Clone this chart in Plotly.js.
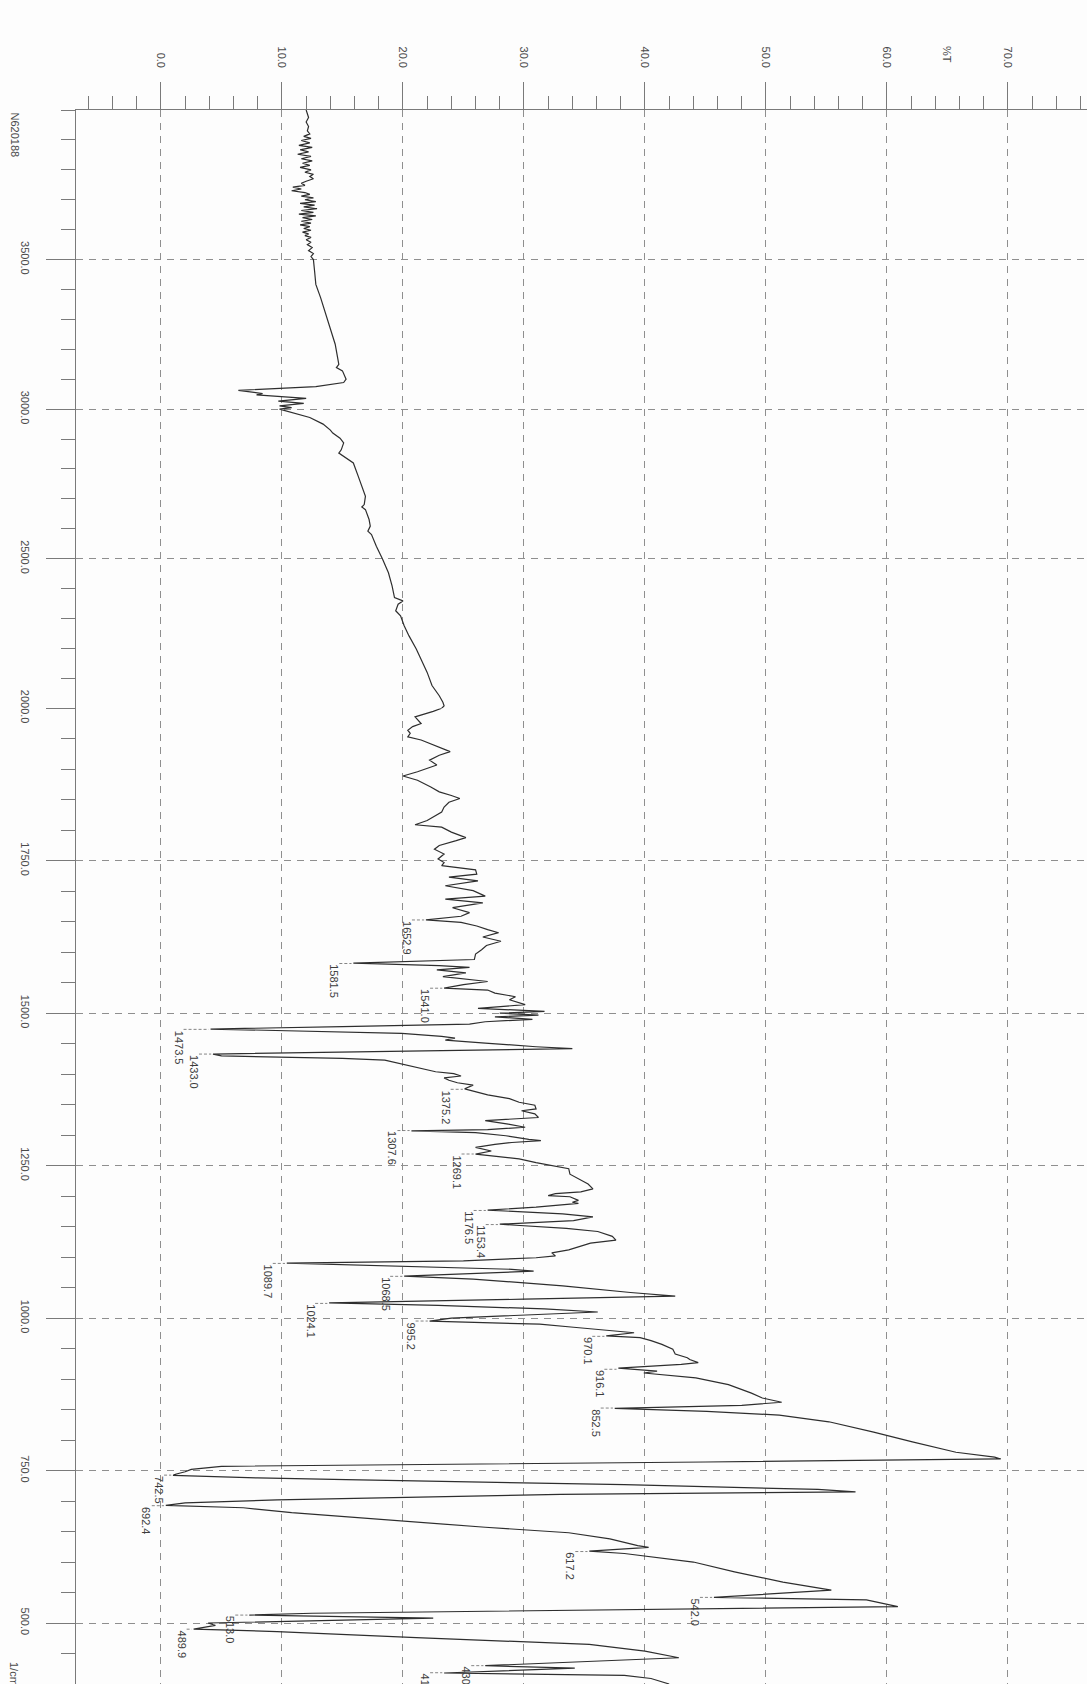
<!DOCTYPE html>
<html>
<head>
<meta charset="utf-8">
<script src="https://cdn.plot.ly/plotly-3.0.1.min.js"></script>
<style>
  html, body { margin: 0; padding: 0; background: #fdfdfd; }
  #chart { width: 1087px; height: 1684px; }
</style>
</head>
<body>
<div id="chart"></div>
<script>
// ---------------- DATA ----------------
const wavenumber = [
  4000,3990,3975,3960,3945,3930,3920,3912,3905,3898,3890,3882,3875,3867,3860,3852,3845,3837,3830,3822,
  3815,3808,3800,3792,3785,3778,3770,3762,3755,3748,3742,3736,3730,3724,3718,3712,3706,3700,3694,3688,
  3682,3676,3670,3664,3658,3652,3646,3640,3634,3628,3622,3616,3610,3604,3598,3592,3586,3580,3574,3566,
  3558,3550,3540,3530,3520,3510,3500,3460,3417,3372,3305,3260,3217,3150,3139,3128,3100,3089,3075,3063,
  3057,3052,3048,3044,3036,3027,3019,3011,3005,3000,2989,2972,2950,2930,2920,2903,2887,2864,2853,2842,
  2820,2776,2742,2709,2681,2673,2664,2631,2609,2592,2581,2542,2500,2453,2409,2370,2359,2348,2326,2309,
  2276,2242,2198,2164,2120,2076,2042,2020,2008,2000,1995,1986,1981,1975,1970,1964,1959,1953,1948,1942,
  1937,1929,1923,1915,1907,1901,1896,1889,1882,1871,1863,1857,1852,1846,1838,1830,1821,1816,1809,1805,
  1797,1788,1783,1775,1769,1761,1753,1747,1742,1735,1728,1723,1717,1709,1701,1692,1687,1681,1673,1665,
  1659,1653,1649,1643,1637,1632,1625,1618,1611,1604,1597,1588,1582,1578,1575,1571,1566,1560,1552,1547,
  1541,1538,1533,1527,1522,1514,1508,1503,1500,1497,1494,1490,1486,1482,1478,1474,1467,1462,1459,1456,
  1451,1445,1442,1438,1433,1430,1426,1423,1415,1404,1401,1397,1394,1390,1386,1382,1376,1371,1366,1360,
  1354,1349,1343,1340,1335,1329,1324,1318,1313,1309,1307,1304,1299,1293,1291,1288,1285,1280,1274,1269,
  1264,1261,1255,1245,1236,1220,1212,1207,1204,1201,1199,1193,1190,1188,1182,1177,1171,1166,1160,1154,
  1147,1142,1134,1128,1123,1118,1112,1107,1102,1099,1094,1090,1085,1080,1077,1073,1069,1064,1053,1042,
  1036,1031,1025,1021,1015,1010,1005,1000,995,992,990,985,979,976,971,968,963,957,949,941,
  935,932,927,924,918,913,910,908,902,891,877,869,862,857,852,847,841,830,813,797,
  780,772,769,764,757,752,748,744,742,738,735,727,719,715,711,702,697,693,689,681,
  670,657,648,638,627,624,618,614,600,584,567,554,542,538,527,522,516,513,508,500,
  496,490,486,476,465,454,443,430,426,418,414,409,400
];
const transmittance = [
  12.0,12.1,12.2,12.0,12.2,12.1,12.3,11.8,12.4,11.6,12.3,11.4,12.5,11.5,12.2,11.3,12.4,11.6,12.5,11.7,
  12.3,11.5,12.4,11.9,12.6,12.3,12.6,12.0,11.6,11.9,10.9,11.6,10.8,11.9,12.3,11.6,12.6,11.9,12.8,11.5,
  12.7,11.8,12.9,11.6,12.6,11.4,12.8,11.7,12.5,11.6,12.4,11.5,12.3,11.8,12.4,11.7,12.2,11.9,12.4,12.0,
  12.4,12.1,12.5,12.2,12.6,12.4,12.6,12.7,12.8,13.2,13.7,14.1,14.4,14.7,14.5,15.0,15.3,15.1,12.8,6.4,
  7.6,8.4,7.9,9.2,12.0,9.7,11.8,9.8,10.8,9.8,10.7,12.3,13.4,14.0,14.2,14.8,15.1,14.9,14.7,15.1,
  15.9,16.3,16.6,16.9,16.8,16.6,16.9,17.2,17.3,17.1,17.4,17.8,18.3,18.8,19.1,19.3,20.0,19.6,19.4,19.8,
  20.1,20.5,21.1,21.5,22.0,22.4,23.0,23.3,23.4,23.2,22.5,21.0,21.2,21.5,20.8,20.4,20.6,20.4,21.5,22.3,
  23.0,23.9,23.0,22.2,22.8,22.0,21.2,20.0,21.2,22.3,23.0,24.0,24.7,23.8,23.4,23.2,22.4,22.0,21.0,23.2,
  24.0,25.2,24.4,23.0,22.6,23.4,22.9,23.4,23.2,26.0,26.1,23.8,26.2,23.5,25.8,26.8,23.5,26.6,24.1,25.5,
  24.8,21.9,24.8,26.1,27.0,27.9,26.6,28.1,26.9,26.5,26.0,25.9,15.9,23.0,25.5,22.8,25.2,23.3,27.0,25.0,
  23.4,27.0,27.6,29.3,28.8,30.1,26.2,31.7,28.0,31.2,27.6,30.7,26.8,25.5,15.0,4.1,19.9,23.2,24.3,23.5,
  26.8,31.0,34.0,20.0,4.3,5.0,15.0,18.5,20.2,22.7,24.2,24.8,23.4,23.8,24.5,25.8,25.1,26.0,27.0,28.8,
  29.6,30.9,31.0,29.8,30.9,31.2,26.8,28.7,30.1,27.0,20.7,26.0,28.5,30.4,31.4,29.0,27.6,26.0,27.3,26.0,
  28.0,29.6,31.0,33.7,33.8,35.3,35.7,34.7,32.6,32.0,33.8,34.5,34.0,34.5,31.0,27.0,33.2,35.7,34.1,28.0,
  33.5,36.1,37.3,37.6,35.5,34.7,33.7,32.3,32.6,31.0,25.0,10.4,19.9,29.0,30.8,25.0,20.1,25.8,33.2,38.8,
  42.5,30.0,13.9,22.9,31.7,36.1,29.5,24.0,22.2,26.7,31.3,34.1,37.3,39.1,36.8,39.6,40.5,41.4,42.3,42.5,
  43.5,43.7,44.4,43.0,37.8,41.0,39.9,41.0,44.2,46.9,48.8,49.7,51.3,48.0,37.5,45.1,51.1,55.2,58.9,62.1,
  65.7,68.9,69.4,45.0,5.0,2.5,2.0,1.2,1.0,8.0,15.3,38.3,54.3,57.4,33.0,9.6,2.0,0.4,6.8,10.8,
  18.2,26.8,33.7,37.1,39.4,40.3,35.4,38.3,44.0,47.4,51.4,55.4,45.7,58.3,60.9,40.0,12.5,7.3,22.5,3.9,
  4.5,2.7,9.6,21.1,35.4,40.0,42.8,26.8,34.2,23.4,38.3,40.5,42.0
];

const peakLabels = ['1652.9','1581.5','1541.0','1473.5','1433.0','1375.2','1307.6','1269.1',
  '1176.5','1153.4','1089.7','1068.5','1024.1','995.2','970.1','916.1','852.5',
  '742.5','692.4','617.2','542.0','513.0','489.9','430.1','418.5'];
const peakWavenumber = [1652.9,1581.5,1541.0,1473.5,1433.0,1375.2,1307.6,1269.1,
  1176.5,1153.4,1089.7,1068.5,1024.1,995.2,970.1,916.1,852.5,
  742.5,692.4,617.2,542.0,513.0,489.9,430.1,418.5];
const peakTransmittance = [21.9,15.9,23.4,4.1,4.3,25.1,20.7,26.0,
  27.0,28.0,10.4,20.1,13.9,22.2,36.8,37.8,37.5,
  1.0,0.4,35.4,45.7,7.3,2.7,26.8,23.4];

const tTickValues = [0,10,20,30,40,50,60,70];
const tTickLabels = ['0.0','10.0','20.0','30.0','40.0','50.0','60.0','70.0'];
const wnTicksUpper = [2500,3000,3500];
const wnTickLabelsUpper = ['2500.0','3000.0','3500.0'];
const wnTicksLower = [500,750,1000,1250,1500,1750,2000];
const wnTickLabelsLower = ['500.0','750.0','1000.0','1250.0','1500.0','1750.0','2000.0'];

const sampleName = 'N620188';
const yUnit = '%T';
const xUnit = '1/cm';

// ---------------- BUILD ----------------
const splitWn = 2000;
const up = {x: [], y: []}, lo = {x: [], y: []};
wavenumber.forEach((w, i) => {
  if (w >= splitWn) { up.x.push(transmittance[i]); up.y.push(w); }
  if (w <= splitWn) { lo.x.push(transmittance[i]); lo.y.push(w); }
});

const lineStyle = {color: '#2e2e2e', width: 1.2};
const traces = [
  {type: 'scatter', mode: 'lines', x: up.x, y: up.y, xaxis: 'x', yaxis: 'y', line: lineStyle, hoverinfo: 'skip'},
  {type: 'scatter', mode: 'lines', x: lo.x, y: lo.y, xaxis: 'x', yaxis: 'y2', line: lineStyle, hoverinfo: 'skip'}
];

const gridColor = '#8f8f8f';
const axisColor = '#7a7a7a';
const splitFrac = 0.61989;

const yCommon = {
  anchor: 'x', side: 'left', tickmode: 'array', tickangle: 90,
  ticks: 'outside', ticklen: 29, tickwidth: 1, tickcolor: axisColor,
  ticklabelstandoff: 12,
  showline: true, linecolor: axisColor, linewidth: 1.2,
  showgrid: true, gridcolor: gridColor, gridwidth: 1, griddash: '7px,6px',
  zeroline: false, fixedrange: true,
  tickfont: {family: 'Liberation Sans, Arial, sans-serif', size: 11, color: '#4a4a4a'}
};

const labelNudge = {'1473.5': -32, '742.5': -14, '489.9': -12};
const annotations = peakLabels.map((t, i) => ({
  xref: 'x', yref: peakWavenumber[i] >= splitWn ? 'y' : 'y2',
  x: peakTransmittance[i], y: peakWavenumber[i],
  text: t, textangle: 90, showarrow: false,
  xanchor: 'center', yanchor: 'top',
  xshift: (labelNudge[t] !== undefined ? labelNudge[t] : -19), yshift: 1,
  font: {family: 'Liberation Sans, Arial, sans-serif', size: 11, color: '#3c3c3c'}
}));
const shapes = peakLabels.map((t, i) => {
  const s = (labelNudge[t] !== undefined ? labelNudge[t] : -19);
  return {
    type: 'line', xref: 'x', yref: peakWavenumber[i] >= splitWn ? 'y' : 'y2',
    x0: peakTransmittance[i] + (s + 5) / 12.1, x1: peakTransmittance[i] - 0.15,
    y0: peakWavenumber[i], y1: peakWavenumber[i],
    line: {color: '#666', width: 0.8, dash: '3px,2px'}
  };
});

annotations.push(
  {xref: 'x', yref: 'paper', x: 65, y: 1, yanchor: 'bottom', xanchor: 'center', yshift: 45,
   text: yUnit, textangle: 90, showarrow: false,
   font: {family: 'Liberation Sans, Arial, sans-serif', size: 11, color: '#4a4a4a'}},
  {xref: 'paper', yref: 'paper', x: -0.0603, y: 1, yanchor: 'top', xanchor: 'center',
   text: sampleName, textangle: 90, showarrow: false,
   font: {family: 'Liberation Sans, Arial, sans-serif', size: 11, color: '#4a4a4a'}},
  {xref: 'paper', yref: 'paper', x: -0.0613, y: 0.01525, yanchor: 'top', xanchor: 'center',
   text: xUnit, textangle: 90, showarrow: false,
   font: {family: 'Liberation Sans, Arial, sans-serif', size: 11, color: '#4a4a4a'}}
);

const layout = {
  width: 1087, height: 1684,
  margin: {l: 76, r: 0, t: 110, b: 0, pad: 0},
  paper_bgcolor: '#fdfdfd', plot_bgcolor: '#fdfdfd',
  showlegend: false,
  font: {family: 'Liberation Sans, Arial, sans-serif', size: 11, color: '#4a4a4a'},
  xaxis: {
    range: [-7.02, 76.53], side: 'top', anchor: 'y',
    tickmode: 'array', tickvals: tTickValues, ticktext: tTickLabels, tickangle: 90,
    ticks: 'outside', ticklen: 27, tickwidth: 1, tickcolor: axisColor,
    ticklabelstandoff: 10,
    showline: true, linecolor: axisColor, linewidth: 1.2,
    showgrid: true, gridcolor: gridColor, gridwidth: 1, griddash: '7px,6px',
    zeroline: false, fixedrange: true,
    tickfont: {family: 'Liberation Sans, Arial, sans-serif', size: 11, color: '#4a4a4a'},
    minor: {tickmode: 'linear', tick0: 0, dtick: 2, ticks: 'outside', ticklen: 13,
            tickwidth: 1, tickcolor: axisColor, showgrid: false}
  },
  yaxis: Object.assign({}, yCommon, {
    domain: [splitFrac, 1], range: [2000, 4000],
    tickvals: wnTicksUpper, ticktext: wnTickLabelsUpper,
    minor: {tickmode: 'linear', tick0: 0, dtick: 100, ticks: 'outside', ticklen: 14,
            tickwidth: 1, tickcolor: axisColor, showgrid: false}
  }),
  yaxis2: Object.assign({}, yCommon, {
    domain: [0, splitFrac], range: [400, 2000],
    tickvals: wnTicksLower, ticktext: wnTickLabelsLower,
    minor: {tickmode: 'linear', tick0: 0, dtick: 50, ticks: 'outside', ticklen: 14,
            tickwidth: 1, tickcolor: axisColor, showgrid: false}
  }),
  annotations: annotations,
  shapes: shapes
};

Plotly.newPlot('chart', traces, layout, {displayModeBar: false, staticPlot: true});
</script>
</body>
</html>
